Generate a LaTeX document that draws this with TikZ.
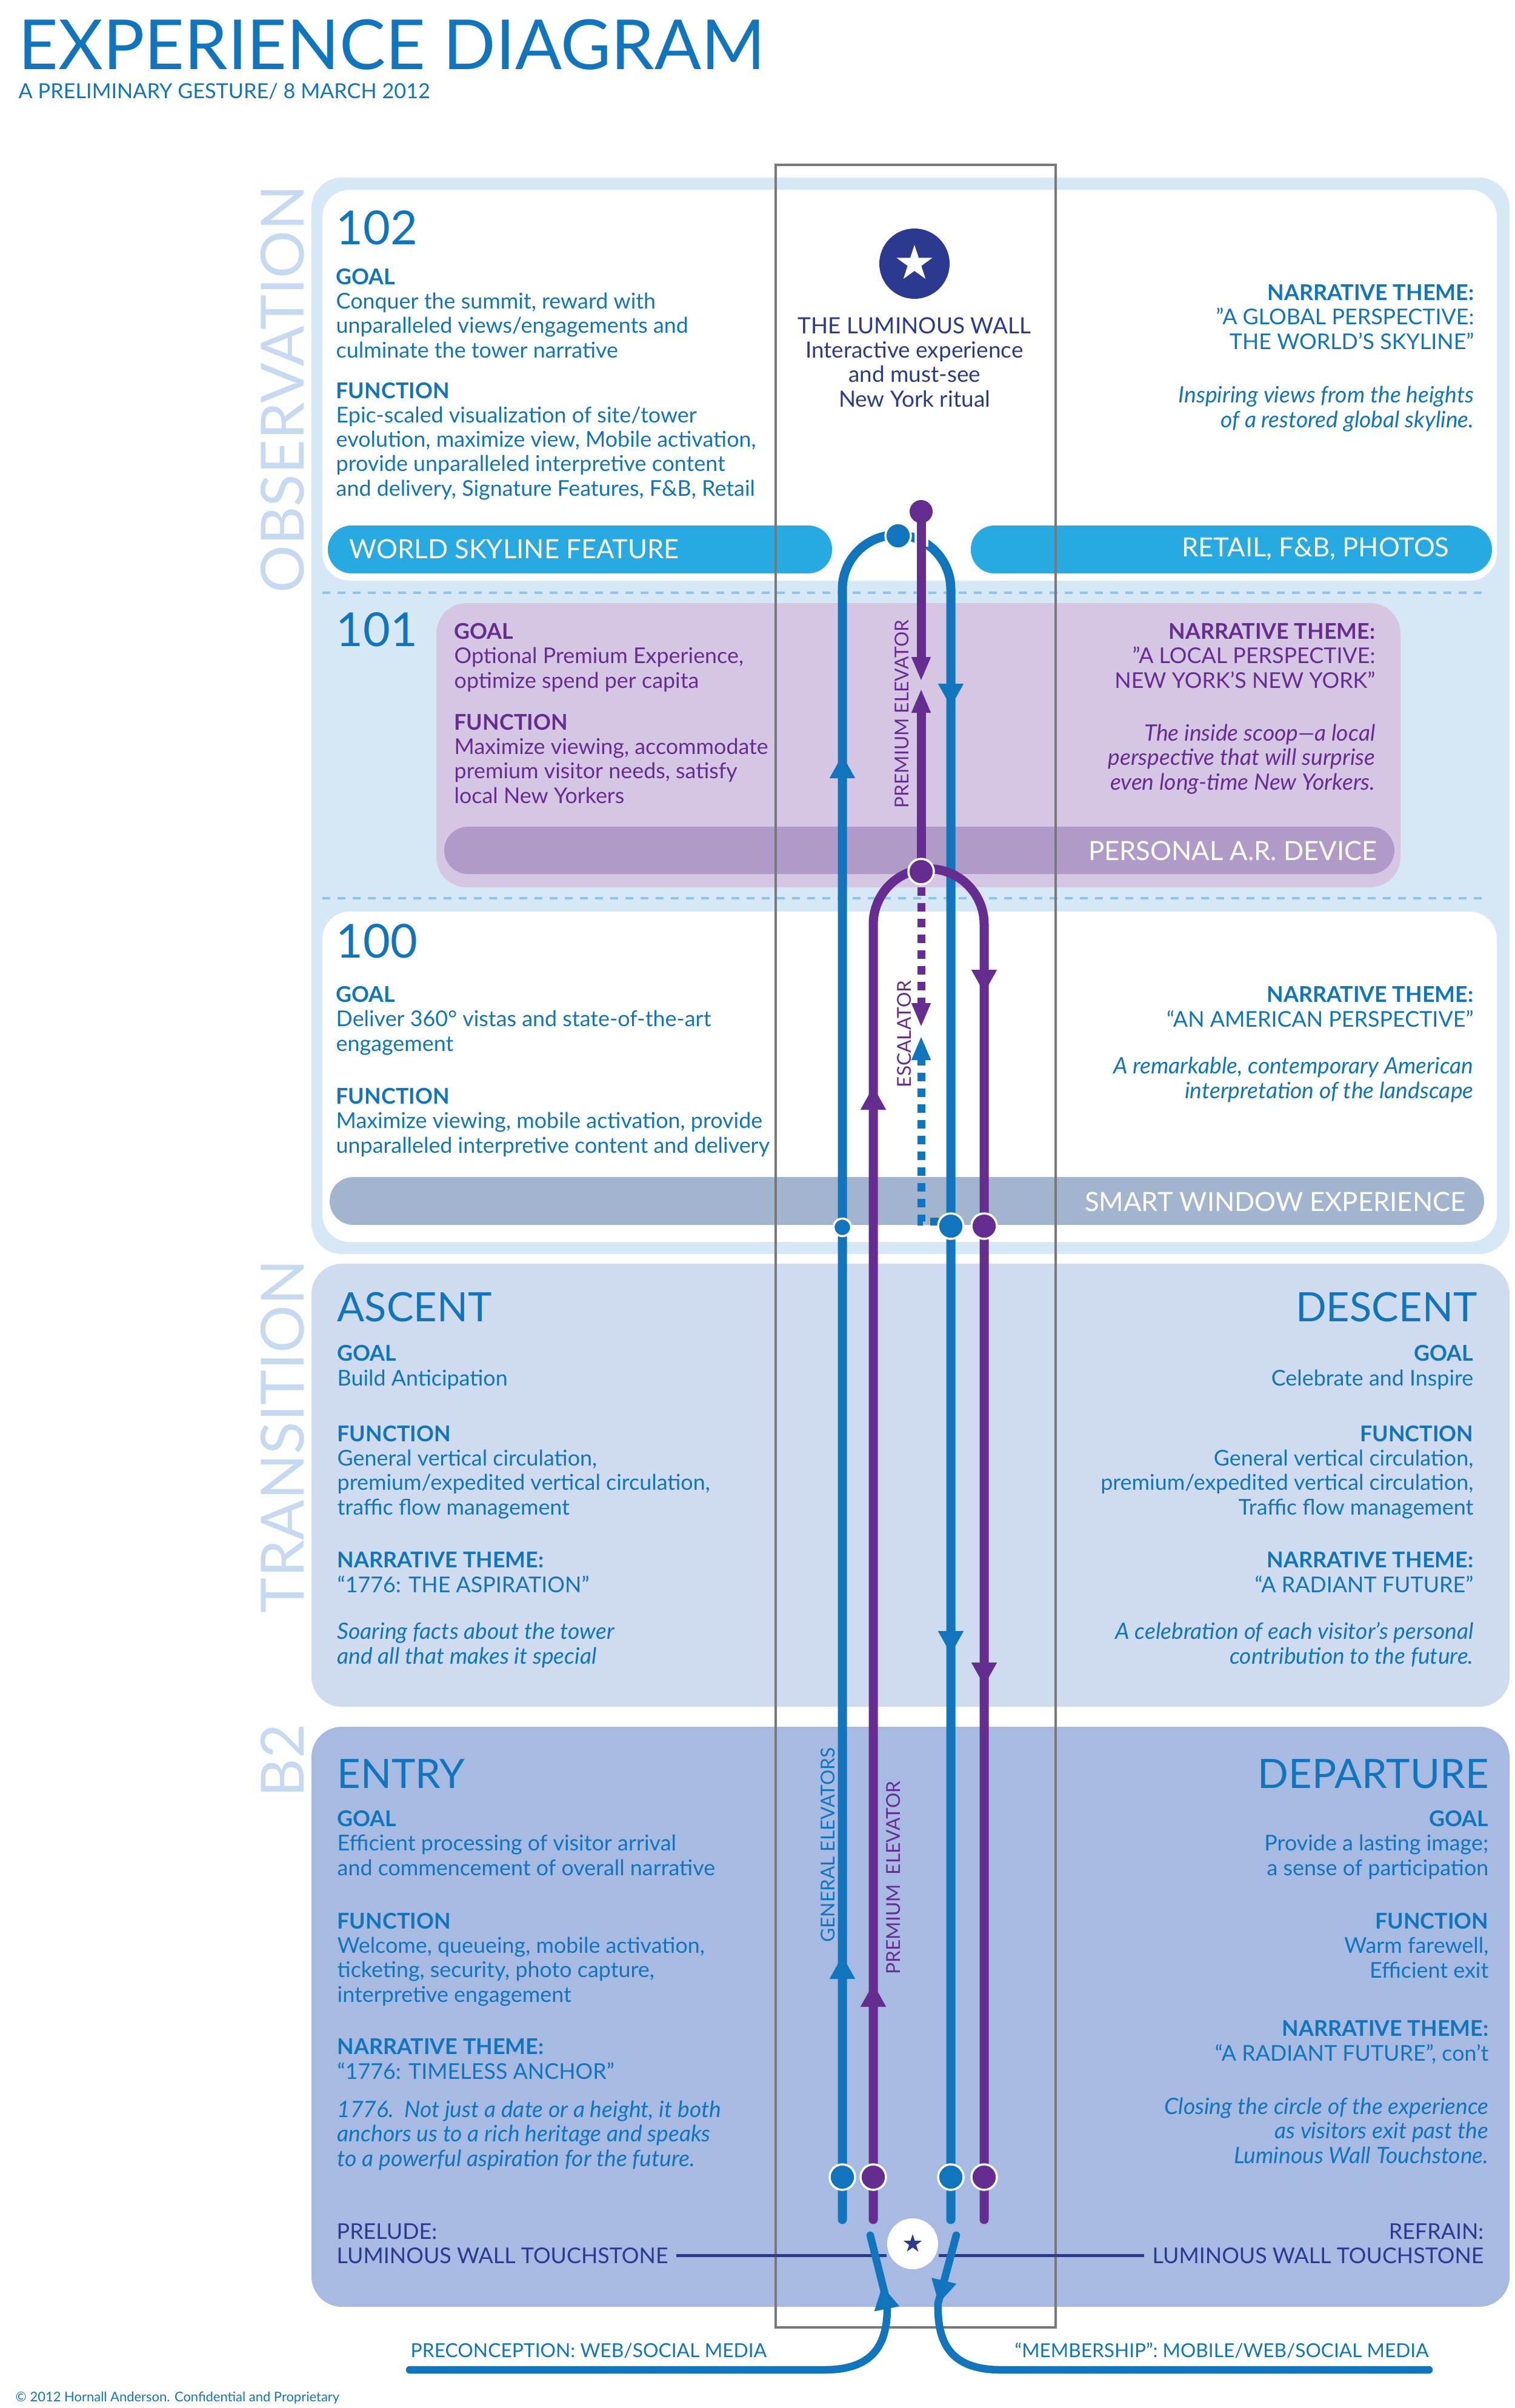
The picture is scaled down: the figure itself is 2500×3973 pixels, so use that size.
\documentclass[tikz,border=0pt]{standalone}
\usepackage{fontspec}
\setmainfont{Lato}
\usepackage{tikz}
\usetikzlibrary{positioning,arrows.meta,shapes.geometric}

\definecolor{cblue}{RGB}{16,117,188}
\definecolor{cpurple}{RGB}{102,45,145}
\definecolor{cnavy}{RGB}{43,57,144}
\definecolor{obsbg}{RGB}{214,231,246}
\definecolor{skybar}{RGB}{39,170,225}
\definecolor{lilac}{RGB}{213,199,227}
\definecolor{arbar}{RGB}{176,155,200}
\definecolor{winbar}{RGB}{162,180,206}
\definecolor{transbg}{RGB}{207,219,238}
\definecolor{entrybg}{RGB}{166,186,226}
\definecolor{sidelbl}{RGB}{197,217,240}
\definecolor{dashblue}{RGB}{140,197,236}
\definecolor{framegrey}{RGB}{120,120,120}

\begin{document}
\begin{tikzpicture}[x=0.1mm,y=-0.1mm,
  every node/.style={inner sep=0pt},
  lft/.style={font=\fontsize{10.2}{11.4}\selectfont,align=left,anchor=base west},
  rgt/.style={font=\fontsize{10.2}{11.4}\selectfont,align=right,anchor=base east},
  itl/.style={font=\fontsize{10.6}{11.4}\selectfont\itshape,align=left,anchor=base west},
  itr/.style={font=\fontsize{10.6}{11.4}\selectfont\itshape,align=right,anchor=base east},
  big/.style={text=cblue,font=\fontsize{22}{22}\selectfont,anchor=base west},
  head/.style={text=cblue,font=\fontsize{19}{19}\selectfont},
  side/.style={text=sidelbl,font=\fontsize{28}{28}\selectfont,rotate=90},
  barlbl/.style={text=white,font=\fontsize{12.4}{12.4}\selectfont},
  rlbl/.style={font=\fontsize{9}{9}\selectfont,rotate=90},
  touch/.style={text=cnavy,font=\fontsize{10.2}{11.4}\selectfont},
  panel/.style={rounded corners=5mm},
  bar/.style={rounded corners=3.9mm},
  sep/.style={draw=dashblue,line width=0.45mm,dash pattern=on 1.3mm off 1.2mm},
  bline/.style={draw=cblue,line width=1.5mm,line cap=round},
  pline/.style={draw=cpurple,line width=1.5mm,line cap=round},
  dline/.style={line width=1.3mm,dash pattern=on 1.4mm off 1.2mm},
  arw/.style={line width=0.5pt,-{Triangle[width=4.2mm,length=3.8mm]}},
  arws/.style={line width=0.5pt,-{Triangle[width=3.2mm,length=3.8mm]}},
  dot/.style={circle,draw=white,line width=0.35mm,minimum size=4.2mm},
  flow/.style={draw=cblue,line width=1.25mm,line cap=round},
  tline/.style={draw=cnavy,line width=0.5mm}
]
\useasboundingbox (0,0) rectangle (2500,3973);

% title
\node[anchor=base west,text=cblue,font=\fontsize{32.4}{32.4}\selectfont] (title) at (30,114) {EXPERIENCE DIAGRAM};
\node[anchor=base west,text=cblue,font=\fontsize{9.75}{11}\selectfont] (subtitle) at (30,162) {A PRELIMINARY GESTURE/ 8 MARCH 2012};

% panels
\fill[obsbg,panel] (514,293) rectangle (2491,2069);
\fill[white,rounded corners=4.5mm] (532,313) rectangle (2470,958);
\fill[white,rounded corners=4.5mm] (532,1504) rectangle (2470,2049);
\fill[lilac,panel] (720,995) rectangle (2311,1464);
\draw[sep] (532,978) -- (2452,978);
\draw[sep] (532,1482) -- (2452,1482);
\fill[skybar,bar] (541,867) rectangle (1373,946);
\fill[skybar,bar] (1602,867) rectangle (2462,946);
\fill[arbar,bar] (733,1364) rectangle (2301,1442);
\fill[winbar,bar] (544,1942) rectangle (2449,2021);
\fill[transbg,panel] (514,2085) rectangle (2491,2816);
\fill[entrybg,panel] (514,2849) rectangle (2491,3806);
\draw[framegrey,line width=0.35mm] (1280,272) rectangle (1742,3840);

\node[side] (obsl) at (466,642) {OBSERVATION};
\node[side] (transl) at (466,2370) {TRANSITION};
\node[side] (b2l) at (466,2905) {B2};

% 102
\node[big] (n102) at (554,403) {102};
\node[lft,text=cblue] (goal102) at (554,590) {\textbf{GOAL}\\Conquer the summit, reward with\\unparalleled views/engagements and\\culminate the tower narrative};
\node[lft,text=cblue] (fn102) at (554,818) {\textbf{FUNCTION}\\Epic-scaled visualization of site/tower\\evolution, maximize view, Mobile activation,\\provide unparalleled interpretive content\\and delivery, Signature Features, F\&B, Retail};
\node[rgt,text=cblue] (th102) at (2433,576) {\textbf{NARRATIVE THEME:}\\”A GLOBAL PERSPECTIVE:\\THE WORLD’S SKYLINE”};
\node[itr,text=cblue] (it102) at (2433,705) {Inspiring views from the heights\\of a restored global skyline.};
\node[circle,fill=cnavy,minimum size=11.6mm] (lwall) at (1509,435) {};
\node[star,star points=5,star point ratio=2.6,fill=white,minimum size=6.2mm] (lwstar) at (lwall) {};
\node[touch,align=center,anchor=base,font=\fontsize{10.5}{11.4}\selectfont] (lwtext) at (1509,671) {THE LUMINOUS WALL\\Interactive experience\\and must-see\\New York ritual};
\node[barlbl,anchor=west] (skyl) at (576,906) {WORLD SKYLINE FEATURE};
\node[barlbl,anchor=east] (retl) at (2392,906) {RETAIL, F\&B, PHOTOS};

% 101
\node[big] (n101) at (554,1066) {101};
\node[lft,text=cpurple] (goal101) at (749,1135) {\textbf{GOAL}\\Optional Premium Experience,\\optimize spend per capita};
\node[lft,text=cpurple] (fn101) at (749,1325) {\textbf{FUNCTION}\\Maximize viewing, accommodate\\premium visitor needs, satisfy\\local New Yorkers};
\node[rgt,text=cpurple] (th101) at (2270,1135) {\textbf{NARRATIVE THEME:}\\”A LOCAL PERSPECTIVE:\\NEW YORK’S NEW YORK”};
\node[itr,text=cpurple] (it101) at (2270,1303) {The inside scoop—a local\\perspective that will surprise\\even long-time New Yorkers.};
\node[barlbl,anchor=east] (arl) at (2273,1404) {PERSONAL A.R. DEVICE};

% 100
\node[big] (n100) at (554,1580) {100};
\node[lft,text=cblue] (goal100) at (554,1734) {\textbf{GOAL}\\Deliver 360° vistas and state-of-the-art\\engagement};
\node[lft,text=cblue] (fn100) at (554,1902) {\textbf{FUNCTION}\\Maximize viewing, mobile activation, provide\\unparalleled interpretive content and delivery};
\node[rgt,text=cblue] (th100) at (2432,1694) {\textbf{NARRATIVE THEME:}\\“AN AMERICAN PERSPECTIVE”};
\node[itr,text=cblue] (it100) at (2432,1812) {A remarkable, contemporary American\\interpretation of the landscape};
\node[barlbl,anchor=east] (winl) at (2419,1983) {SMART WINDOW EXPERIENCE};

% transition
\node[head,anchor=base west] (ascent) at (556,2180) {ASCENT};
\node[lft,text=cblue] (goalA) at (556,2286) {\textbf{GOAL}\\Build Anticipation};
\node[lft,text=cblue] (fnA) at (556,2499) {\textbf{FUNCTION}\\General vertical circulation,\\premium/expedited vertical circulation,\\traffic flow management};
\node[lft,text=cblue] (thA) at (556,2627) {\textbf{NARRATIVE THEME:}\\“1776: THE ASPIRATION”};
\node[itl,text=cblue] (itA) at (556,2745) {Soaring facts about the tower\\and all that makes it special};
\node[head,anchor=base east] (descent) at (2438,2180) {DESCENT};
\node[rgt,text=cblue] (goalD) at (2432,2286) {\textbf{GOAL}\\Celebrate and Inspire};
\node[rgt,text=cblue] (fnD) at (2432,2499) {\textbf{FUNCTION}\\General vertical circulation,\\premium/expedited vertical circulation,\\Traffic flow management};
\node[rgt,text=cblue] (thD) at (2432,2627) {\textbf{NARRATIVE THEME:}\\“A RADIANT FUTURE”};
\node[itr,text=cblue] (itD) at (2432,2745) {A celebration of each visitor’s personal\\contribution to the future.};

% B2
\node[head,anchor=base west] (entry) at (556,2950) {ENTRY};
\node[lft,text=cblue] (goalE) at (556,3094) {\textbf{GOAL}\\Efficient processing of visitor arrival\\and commencement of overall narrative};
\node[lft,text=cblue] (fnE) at (556,3303) {\textbf{FUNCTION}\\Welcome, queueing, mobile activation,\\ticketing, security, photo capture,\\interpretive engagement};
\node[lft,text=cblue] (thE) at (556,3430) {\textbf{NARRATIVE THEME:}\\“1776: TIMELESS ANCHOR”};
\node[itl,text=cblue] (itE) at (556,3574) {1776.\ \ Not just a date or a height, it both\\anchors us to a rich heritage and speaks\\to a powerful aspiration for the future.};
\node[touch,anchor=base west] (prelA) at (555,3694) {PRELUDE:};
\node[touch,anchor=base west] (prelB) at (555,3734) {LUMINOUS WALL TOUCHSTONE};
\node[head,anchor=base east] (depart) at (2457,2950) {DEPARTURE};
\node[rgt,text=cblue] (goalR) at (2457,3094) {\textbf{GOAL}\\Provide a lasting image;\\a sense of participation};
\node[rgt,text=cblue] (fnR) at (2457,3263) {\textbf{FUNCTION}\\Warm farewell,\\Efficient exit};
\node[rgt,text=cblue] (thR) at (2457,3400) {\textbf{NARRATIVE THEME:}\\“A RADIANT FUTURE”, con’t};
\node[itr,text=cblue] (itR) at (2457,3569) {Closing the circle of the experience\\as visitors exit past the\\Luminous Wall Touchstone.};
\node[touch,anchor=base east] (refrA) at (2449,3694) {REFRAIN:};
\node[touch,anchor=base east] (refrB) at (2449,3734) {LUMINOUS WALL TOUCHSTONE};

% routes
\coordinate (gupB) at (1390,3662);
\coordinate (gupT) at (1390,972);
\coordinate (gdnB) at (1569,3662);
\coordinate (pupB) at (1441,3662);
\coordinate (pupT) at (1441,1525);
\coordinate (pdnB) at (1624,3662);
\draw[bline] (gupB) -- (gupT) arc[start angle=180,end angle=0,radius=8.95mm] -- (gdnB);
\draw[pline] (pupB) -- (pupT) arc[start angle=180,end angle=0,radius=9.15mm] -- (pdnB);
\draw[white,line width=2.3mm] (1520,866) -- (1520,902);
\draw[pline] (1520,844) -- (1520,1100);
\draw[pline] (1520,1438) -- (1520,1160);
\draw[dline,cpurple] (1520,1438) -- (1520,1665);
\draw[dline,cblue] (1549,2015) -- (1520,2015) -- (1520,1740);

\draw[arw,cblue] (1390,1285) -- (1390,1246);
\draw[arw,cblue] (1390,3263) -- (1390,3227);
\draw[arw,cblue] (1569,1129) -- (1569,1166);
\draw[arw,cblue] (1569,2692) -- (1569,2729);
\draw[arw,cpurple] (1441,1831) -- (1441,1793);
\draw[arw,cpurple] (1441,3308) -- (1441,3273);
\draw[arw,cpurple] (1624,1597) -- (1624,1638);
\draw[arw,cpurple] (1624,2744) -- (1624,2781);
\draw[arws,cpurple] (1520,1083) -- (1520,1122);
\draw[arws,cpurple] (1520,1175) -- (1520,1138);
\draw[arws,cpurple] (1520,1655) -- (1520,1693);
\draw[arws,cblue] (1520,1748) -- (1520,1711);

\node[dot,fill=cblue] (gtop) at (1482,884) {};
\node[dot,fill=cpurple,draw=none,minimum size=3.8mm] (ptop) at (1520,844) {};
\node[dot,fill=cpurple] (pnode) at (1520,1438) {};
\node[dot,fill=cblue,minimum size=2.9mm] (g100a) at (1390,2025) {};
\node[dot,fill=cblue] (g100b) at (1569,2023) {};
\node[dot,fill=cpurple] (p100) at (1624,2023) {};
\node[dot,fill=cblue] (gB1) at (1390,3592) {};
\node[dot,fill=cpurple] (pB1) at (1441,3592) {};
\node[dot,fill=cblue] (gB2) at (1569,3592) {};
\node[dot,fill=cpurple] (pB2) at (1624,3592) {};

\node[rlbl,text=cpurple] (premtop) at (1488,1178) {PREMIUM ELEVATOR};
\node[rlbl,text=cpurple] (escal) at (1492,1706) {ESCALATOR};
\node[rlbl,text=cblue] (genlbl) at (1366,3044) {GENERAL ELEVATORS};
\node[rlbl,text=cpurple] (premlbl) at (1474,3098) {PREMIUM\ \ ELEVATOR};

% touchstone
\node[circle,fill=white,minimum size=8.4mm] (tstone) at (1506,3702) {};
\node[star,star points=5,star point ratio=2.6,fill=cnavy,minimum size=3.2mm] (tstar) at (tstone) {};
\draw[tline] ([xshift=1.3mm]prelB.east) -- (prelB.east -| tstone.west);
\draw[tline] ([xshift=-1.3mm]refrB.west) -- (refrB.west -| tstone.east);

\coordinate (inA) at (676,3910);
\coordinate (inB) at (1436,3688);
\coordinate (outA) at (2358,3910);
\coordinate (outB) at (1578,3688);
\draw[flow] (inA) -- (1360,3910) .. controls (1440,3910) and (1466,3870) .. (1464,3800) -- (inB);
\draw[flow] (outA) -- (1652,3910) .. controls (1572,3910) and (1546,3870) .. (1548,3800) -- (outB);
\draw[arw,cblue] (1464,3812) -- (1456,3772);
\draw[arw,cblue] (1558,3762) -- (1549,3800);
\node[anchor=base west,text=cblue,font=\fontsize{9.05}{9}\selectfont] (precon) at (677,3889) {PRECONCEPTION: WEB/SOCIAL MEDIA};
\node[anchor=base east,text=cblue,font=\fontsize{9}{9}\selectfont] (member) at (2358,3889) {“MEMBERSHIP”: MOBILE/WEB/SOCIAL MEDIA};
\node[anchor=base west,text=cblue,font=\fontsize{6.25}{6.5}\selectfont] (copyr) at (25,3962) {© 2012 Hornall Anderson. Confidential and Proprietary};
\end{tikzpicture}
\end{document}
